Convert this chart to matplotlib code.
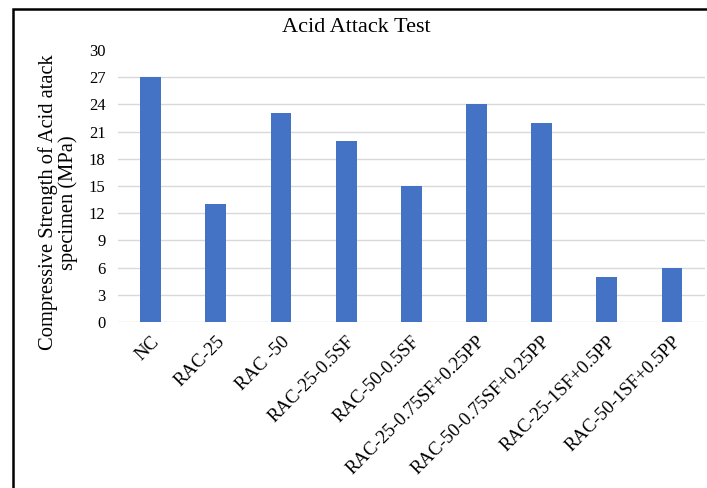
import matplotlib
matplotlib.use("Agg")
from matplotlib import pyplot as plt
from matplotlib.patches import Rectangle

# Values
mixes = ['NC', 'RAC-25', 'RAC -50', 'RAC-25-0.5SF', 'RAC-50-0.5SF',
         'RAC-25-0.75SF+0.25PP', 'RAC-50-0.75SF+0.25PP',
         'RAC-25-1SF+0.5PP', 'RAC-50-1SF+0.5PP']
strength = [27, 13, 23, 20, 15, 24, 22, 5, 6]
y_ticks = [0, 3, 6, 9, 12, 15, 18, 21, 24, 27, 30]

plt.rcParams['font.family'] = ['Liberation Serif', 'DejaVu Serif']

fig = plt.figure(figsize=[7.07, 4.88], dpi=100)
ax = fig.add_axes([118 / 707, 1 - 322 / 488, (704.6 - 118) / 707, (322 - 50) / 488])

# outer frame (the source is a cropped screenshot, so right and bottom run off)
fig.patches.append(Rectangle((13 / 707, -0.1), 1.2, 1.1 - 9 / 488, transform=fig.transFigure,
                             fill=False, edgecolor='black', linewidth=1.8))

x = range(len(mixes))
ax.bar(x, strength, width=0.32, color='#4472C4', zorder=3)

ax.set_ylim(0, 30)
ax.set_xlim(-0.5, len(mixes) - 0.5)
ax.set_yticks(y_ticks)
ax.set_yticklabels([str(t) for t in y_ticks], fontsize=12)
for t in y_ticks[:-1]:
    ax.axhline(t, color='#d9d9d9', linewidth=1, zorder=1)

ax.set_xticks(list(x))
ax.set_xticklabels(mixes, rotation=45, ha='right', rotation_mode='anchor', fontsize=13.5)
ax.tick_params(axis='both', length=0)
ax.tick_params(axis='x', pad=8)
ax.tick_params(axis='y', pad=9)
for s in ax.spines.values():
    s.set_visible(False)

ax.set_ylabel("Compressive Strength of Acid atack\nspecimen (MPa)", fontsize=14.8,
              linespacing=1.05)
ax.yaxis.set_label_coords(-0.068, 0.44)
fig.text(356 / 707, 1 - 28 / 488, "Acid Attack Test", ha='center', va='center', fontsize=16)

plt.savefig("out.png", dpi=100)
